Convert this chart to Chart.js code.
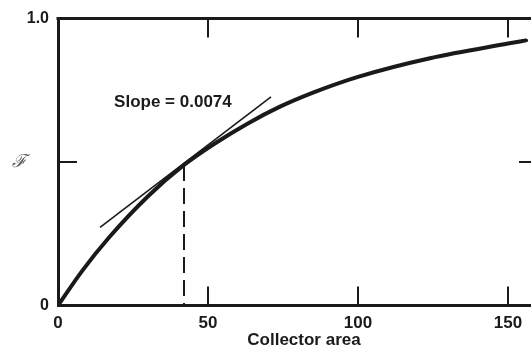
<!DOCTYPE html>
<html><head><meta charset="utf-8">
<script src="https://cdn.jsdelivr.net/npm/chart.js@4/dist/chart.umd.min.js"></script>
<style>
html,body{margin:0;padding:0;background:#fff;overflow:hidden;width:531px;height:358px}
#wrap{position:relative;width:540px;height:358px}
</style></head>
<body><div id="wrap"><canvas id="c" width="540" height="358"></canvas></div>
<script>
// Data
const areaA   = [0, 8, 17, 30, 42, 52, 63, 74, 85, 100, 124, 150, 156];
const fracF   = [0, 0.12, 0.237, 0.381, 0.49, 0.563, 0.633, 0.693, 0.742, 0.797, 0.862, 0.913, 0.924];
const tangentA = [14, 71];
const tangentF = [0.272, 0.727];
const markA = [42, 42];
const markF = [0.49, 0];
const xTicks = [0, 50, 100, 150];
const yTicks = [0, 0.5, 1];
const yTickLabels = ['0', '', '1.0'];
const xTitle = 'Collector area';
const yTitle = '\u2131';
const slopeText = 'Slope = 0.0074';

const INK = '#1a1a1a';
const FONT = 'Liberation Sans, Arial, sans-serif';
const pts = (xs, ys) => xs.map((v, i) => ({x: v, y: ys[i]}));

const framePlugin = {
  id: 'frame',
  afterDatasetsDraw(chart) {
    const {ctx, chartArea: a, scales: {x, y}} = chart;
    ctx.save();
    ctx.strokeStyle = INK;
    ctx.lineWidth = 3;
    ctx.beginPath();
    ctx.moveTo(a.left - 1.5, a.top); ctx.lineTo(a.right, a.top);
    ctx.lineTo(a.right, a.bottom);
    ctx.stroke();
    ctx.lineWidth = 2;
    const L = 19;
    ctx.beginPath();
    xTicks.filter(v => v > 0).forEach(v => {
      const px = Math.round(x.getPixelForValue(v));
      ctx.moveTo(px, a.bottom); ctx.lineTo(px, a.bottom - L);
      ctx.moveTo(px, a.top); ctx.lineTo(px, a.top + L);
    });
    yTicks.filter(v => v > 0 && v < 1).forEach(v => {
      const py = Math.round(y.getPixelForValue(v));
      ctx.moveTo(a.left, py); ctx.lineTo(a.left + L, py);
      ctx.moveTo(a.right, py); ctx.lineTo(a.right - L, py);
    });
    ctx.stroke();
    // texts
    ctx.fillStyle = INK;
    ctx.font = 'bold 17px ' + FONT;
    ctx.textAlign = 'left';
    ctx.textBaseline = 'alphabetic';
    ctx.fillText(slopeText, x.getPixelForValue(18.7), y.getPixelForValue(0.691));
    ctx.textAlign = 'center';
    ctx.fillText(xTitle, 304, 344.5);
    ctx.fillStyle = '#555';
    ctx.font = 'italic 18px "DejaVu Serif", serif';
    ctx.textBaseline = 'middle';
    ctx.fillText(yTitle, 19, y.getPixelForValue(0.5));
    ctx.restore();
  }
};

new Chart(document.getElementById('c'), {
  type: 'line',
  data: {
    datasets: [
      {data: pts(areaA, fracF), borderColor: INK, borderWidth: 4, pointRadius: 0,
       cubicInterpolationMode: 'monotone', fill: false, borderCapStyle: 'round'},
      {data: pts(tangentA, tangentF), borderColor: INK, borderWidth: 1.6, pointRadius: 0, fill: false},
      {data: pts(markA, markF), borderColor: INK, borderWidth: 2, borderDash: [16, 7], pointRadius: 0, fill: false}
    ]
  },
  options: {
    responsive: false, animation: false, devicePixelRatio: 1,
    layout: {padding: {top: 14, right: 2, left: 0, bottom: 0}},
    plugins: {legend: {display: false}, tooltip: {enabled: false}},
    scales: {
      x: {
        type: 'linear', min: 0, max: 160,
        afterBuildTicks: s => { s.ticks = xTicks.map(v => ({value: v})); },
        afterFit: s => { s.height = 52.5; },
        ticks: {font: {family: FONT, size: 17, weight: 'bold'}, color: INK, padding: 8, maxRotation: 0, autoSkip: false},
        grid: {drawOnChartArea: false, drawTicks: false},
        border: {display: true, width: 3, color: INK}
      },
      y: {
        min: 0, max: 1,
        afterBuildTicks: s => { s.ticks = yTicks.map(v => ({value: v})); },
        afterFit: s => { s.width = 58; },
        ticks: {font: {family: FONT, size: 16, weight: 'bold'}, color: INK, padding: 9,
                callback: v => yTickLabels[yTicks.indexOf(v)]},
        grid: {drawOnChartArea: false, drawTicks: false},
        border: {display: true, width: 3, color: INK}
      }
    }
  },
  plugins: [framePlugin]
});
</script>
</body></html>
